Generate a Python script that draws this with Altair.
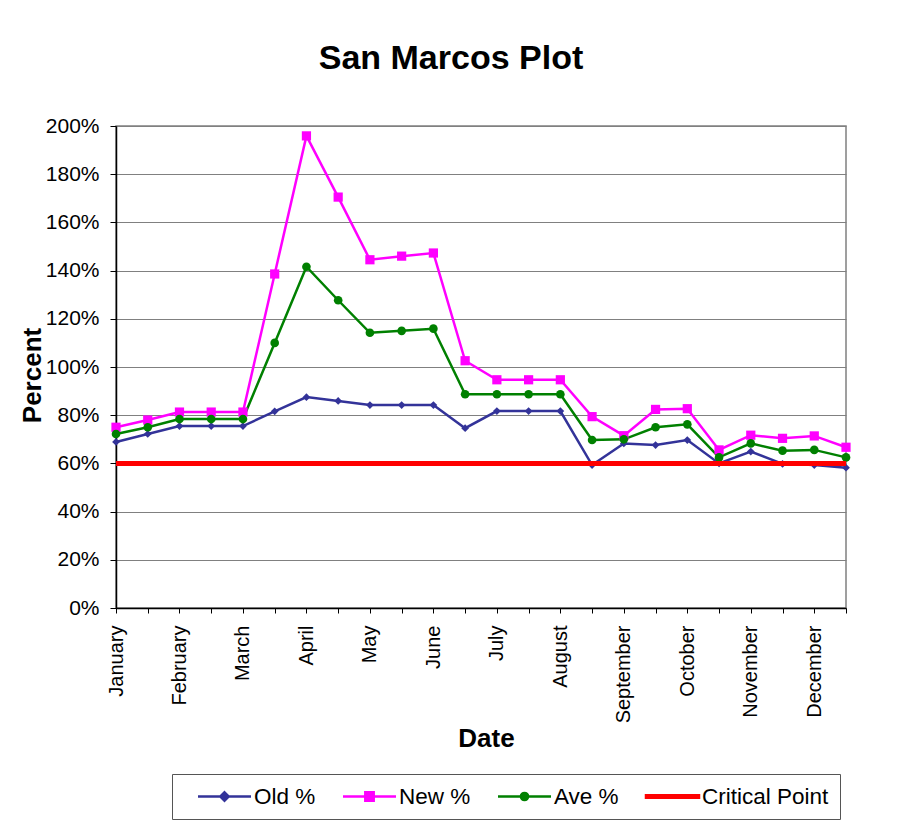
import altair as alt
import pandas as pd

FONT = "Liberation Sans"

months = ["January", "February", "March", "April", "May", "June", "July",
          "August", "September", "October", "November", "December"]
# two readings per month; only the first of each month is labelled
periods = [f"{m}|{half}" for m in months for half in ("a", "b")]

old_pct = [0.689, 0.722, 0.755, 0.755, 0.755, 0.816, 0.875, 0.859, 0.842, 0.842, 0.842, 0.746,
           0.817, 0.817, 0.817, 0.593, 0.683, 0.676, 0.697, 0.600, 0.649, 0.598, 0.593, 0.582]
new_pct = [0.750, 0.780, 0.813, 0.813, 0.813, 1.386, 1.959, 1.705, 1.445, 1.460, 1.473, 1.026,
           0.947, 0.947, 0.947, 0.794, 0.715, 0.824, 0.827, 0.656, 0.717, 0.704, 0.714, 0.667]
ave_pct = [0.722, 0.750, 0.784, 0.784, 0.784, 1.100, 1.416, 1.277, 1.142, 1.150, 1.159, 0.887,
           0.887, 0.887, 0.887, 0.697, 0.700, 0.750, 0.762, 0.625, 0.683, 0.653, 0.656, 0.625]
critical_point = [0.60]

series_names = ["Old %", "New %", "Ave %", "Critical Point"]
series_colors = ["#333399", "#FF00FF", "#008000", "#FF0000"]
marker_shapes = ["diamond", "square", "circle"]
marker_sizes = [60, 85, 75]

y_ticks = [0, 0.2, 0.4, 0.6, 0.8, 1.0, 1.2, 1.4, 1.6, 1.8, 2.0]

rows = []
for name, vals in zip(series_names[:3], [old_pct, new_pct, ave_pct]):
    for p, v in zip(periods, vals):
        rows.append({"period": p, "series": name, "value": v})
df = pd.DataFrame(rows)
crit_df = pd.DataFrame({"value": critical_point})

# legend symbols: line with marker (unit = sqrt(symbolSize)/2 px)
legend_paths = [
    "M-2.65,0L2.65,0M0,-0.42L0.42,0L0,0.42L-0.42,0Z",
    "M-2.65,0L2.65,0M-0.42,-0.42L0.42,-0.42L0.42,0.42L-0.42,0.42Z",
    "M-2.65,0L2.65,0M0.36,0C0.36,0.2,0.2,0.36,0,0.36C-0.2,0.36,-0.36,0.2,-0.36,0"
    "C-0.36,-0.2,-0.2,-0.36,0,-0.36C0.2,-0.36,0.36,-0.2,0.36,0Z",
    "M-2.65,-0.12L2.65,-0.12L2.65,0.12L-2.65,0.12Z",
]

x_enc = alt.X(
    "period:N",
    sort=periods,
    scale=alt.Scale(type="point", domain=periods, padding=0),
    axis=alt.Axis(
        title="Date",
        labelExpr="split(datum.label, '|')[1] == 'a' ? split(datum.label, '|')[0] : ''",
        labelAngle=-90,
        labelFontSize=20,
        labelPadding=12,
        labelOverlap=False,
        tickSize=5,
        grid=False,
        titleX=370,
        titleY=138,
        titleBaseline="alphabetic",
    ),
)
y_scale = alt.Scale(domain=[0, 2], nice=False)
y_enc = alt.Y(
    "value:Q",
    scale=y_scale,
    axis=alt.Axis(
        title="Percent",
        values=y_ticks,
        format=".0%",
        labelFontSize=21,
        labelPadding=11,
        tickSize=6,
        titleX=-76,
        titleY=249,
        titleAngle=-90,
        titleAlign="center",
        titleBaseline="alphabetic",
    ),
)

layers = []
for name, color in zip(series_names[:3], series_colors[:3]):
    layers.append(
        alt.Chart(df).transform_filter(alt.datum.series == name)
        .mark_line(color=color, strokeWidth=2.5)
        .encode(x=x_enc, y=y_enc)
    )
for name, color, shp, sz in zip(series_names[:3], series_colors[:3], marker_shapes, marker_sizes):
    layers.append(
        alt.Chart(df).transform_filter(alt.datum.series == name)
        .mark_point(color=color, shape=shp, size=sz, filled=True, opacity=1)
        .encode(x=x_enc, y=y_enc)
    )

crit = alt.Chart(crit_df).mark_rule(color="#FF0000", strokeWidth=5).encode(y=alt.Y("value:Q", scale=y_scale))
layers.append(crit)

legend_layer = (
    alt.Chart(df).transform_filter("datum.value > 100")
    .mark_point(filled=True, opacity=1)
    .encode(
        color=alt.Color("series:N", scale=alt.Scale(domain=series_names, range=series_colors),
                        legend=alt.Legend(title=None)),
        stroke=alt.Stroke("series:N", scale=alt.Scale(domain=series_names, range=series_colors),
                          legend=alt.Legend(title=None)),
        shape=alt.Shape("series:N", scale=alt.Scale(domain=series_names, range=legend_paths),
                        legend=alt.Legend(title=None)),
    )
)
layers.append(legend_layer)

chart = (
    alt.layer(*layers)
    .properties(
        width=730,
        height=482,
        autosize=alt.AutoSizeParams(type="none"),
        padding={"left": 108, "top": 118, "right": 45, "bottom": 214},
        title=alt.TitleParams(
            "San Marcos Plot", font=FONT, fontSize=34, fontWeight="bold", color="black",
            anchor="middle", frame="group", dx=-30, offset=39,
        ),
        background="white",
    )
    .configure_view(stroke="#808080", strokeWidth=1.5)
    .configure_axis(
        labelFont=FONT, titleFont=FONT, labelColor="black", titleColor="black",
        titleFontSize=26, titleFontWeight="bold",
        domainColor="black", domainWidth=1.5, tickColor="black", tickWidth=1,
        gridColor="#808080", gridWidth=1,
    )
    .configure_legend(
        orient="none", legendX=56, legendY=648, direction="horizontal", columns=4,
        symbolSize=400, symbolStrokeWidth=2.5, symbolOffset=30,
        labelFont=FONT, labelFontSize=22.5, labelColor="black",
        labelOffset=18, padding=11, strokeColor="#555555", fillColor="white", columnPadding=12,
    )
)

chart.save("out.html", embed_options={"renderer": "svg", "actions": False})
